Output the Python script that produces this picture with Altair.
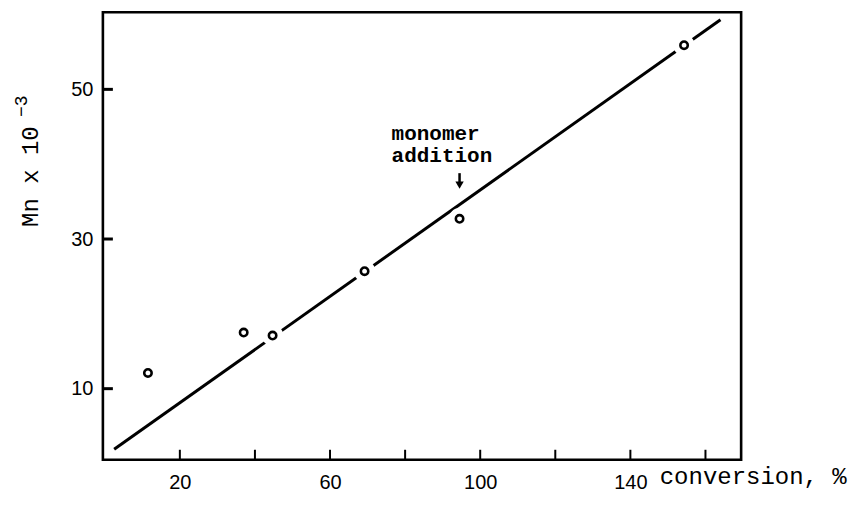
import altair as alt
import pandas as pd

# data
conversion = [11.5, 37.0, 44.7, 69.2, 94.5, 154.3]
mn = [12.1, 17.5, 17.1, 25.7, 32.7, 55.9]

line_x = [2.5, 164.0]
line_y = [1.9, 59.3]

x_tick_values = [20, 40, 60, 80, 100, 120, 140, 160]
x_label_values = [20, 60, 100, 140]
y_tick_values = [10, 30, 50]

note_lines = ["monomer", "addition"]
note_x = [76.4]
note_y = [43.2]
arrow_x = [94.5]
arrow_top = [38.8]
arrow_bottom = [37.4]
arrow_head = [37.2]

pts = pd.DataFrame({"conv": conversion, "mn": mn})
fit = pd.DataFrame({"conv": line_x, "mn": line_y})
xt = pd.DataFrame({"v": x_tick_values})
yt = pd.DataFrame({"v": y_tick_values})
note = pd.DataFrame({"x": note_x, "y": note_y, "t": [note_lines]})
arrow = pd.DataFrame({"x": arrow_x, "y": arrow_top, "y2": arrow_bottom, "h": arrow_head})

W, H = 639, 448
xscale = alt.Scale(domain=[-0.5, 169.5], nice=False, zero=False)
yscale = alt.Scale(domain=[0.5, 60.3], nice=False, zero=False)

xaxis = alt.Axis(values=x_label_values, ticks=False, domain=False, grid=False,
                 labelFont="Liberation Sans", labelFontSize=20, labelColor="black",
                 labelPadding=13,
                 title="conversion, %", titleFont="Liberation Mono", titleFontSize=24,
                 titleFontWeight="normal", titleColor="black", titleAlign="left",
                 titleAnchor="start", titleX=557, titleY=24, titleBaseline="alphabetic")
yaxis = alt.Axis(values=y_tick_values, ticks=False, domain=False, grid=False,
                 labelFont="Liberation Sans", labelFontSize=20, labelColor="black",
                 labelPadding=10,
                 title="Mn x 10", titleFont="Liberation Mono", titleFontSize=24,
                 titleFontWeight="normal", titleColor="black", titleAngle=270,
                 titleAlign="center", titleX=-65, titleY=164, titleBaseline="alphabetic")


def X(f):
    return alt.X(f, type="quantitative", scale=xscale, axis=xaxis)


def Y(f):
    return alt.Y(f, type="quantitative", scale=yscale, axis=yaxis)


line = alt.Chart(fit).mark_line(color="black", strokeWidth=3).encode(x=X("conv"), y=Y("mn"))
halo = alt.Chart(pts).mark_point(filled=True, color="white", size=460, opacity=1, shape="circle").encode(
    x=X("conv"), y=Y("mn"))
points = alt.Chart(pts).mark_point(filled=False, color="black", size=55, strokeWidth=2.6,
                                   opacity=1, shape="circle").encode(x=X("conv"), y=Y("mn"))

xticks = alt.Chart(xt).mark_rule(color="black", strokeWidth=2).encode(
    x=X("v"), y=alt.value(H), y2=alt.value(H - 10))
yticks = alt.Chart(yt).mark_rule(color="black", strokeWidth=3).encode(
    y=Y("v"), x=alt.value(0), x2=alt.value(10))

note_text = alt.Chart(note).mark_text(font="Liberation Mono", fontWeight="bold", fontSize=21,
                                      align="left", baseline="alphabetic", lineHeight=22,
                                      color="black").encode(x=X("x"), y=Y("y"), text="t")
arrow_shaft = alt.Chart(arrow).mark_rule(color="black", strokeWidth=2.5).encode(
    x=X("x"), y=Y("y"), y2="y2")
arrow_tip = alt.Chart(arrow).mark_point(shape="triangle-down", filled=True, color="black",
                                        size=70, opacity=1).encode(x=X("x"), y=Y("h"))

sup = alt.Chart(pd.DataFrame({"t": ["\u22123"]})).mark_text(
    font="Liberation Mono", fontSize=18, angle=270, align="center", baseline="alphabetic",
    color="black").encode(text="t", x=alt.value(-76), y=alt.value(94))

chart = alt.layer(line, halo, points, xticks, yticks, note_text, arrow_shaft, arrow_tip, sup).properties(
    width=W, height=H,
    padding={"left": 95, "top": 4, "right": 110, "bottom": 40},
    autosize=alt.AutoSizeParams(type="none"),
).configure(background="white").configure_view(stroke="black", strokeWidth=2.6)

chart.save("out.html", embed_options={"renderer": "svg", "actions": False})
